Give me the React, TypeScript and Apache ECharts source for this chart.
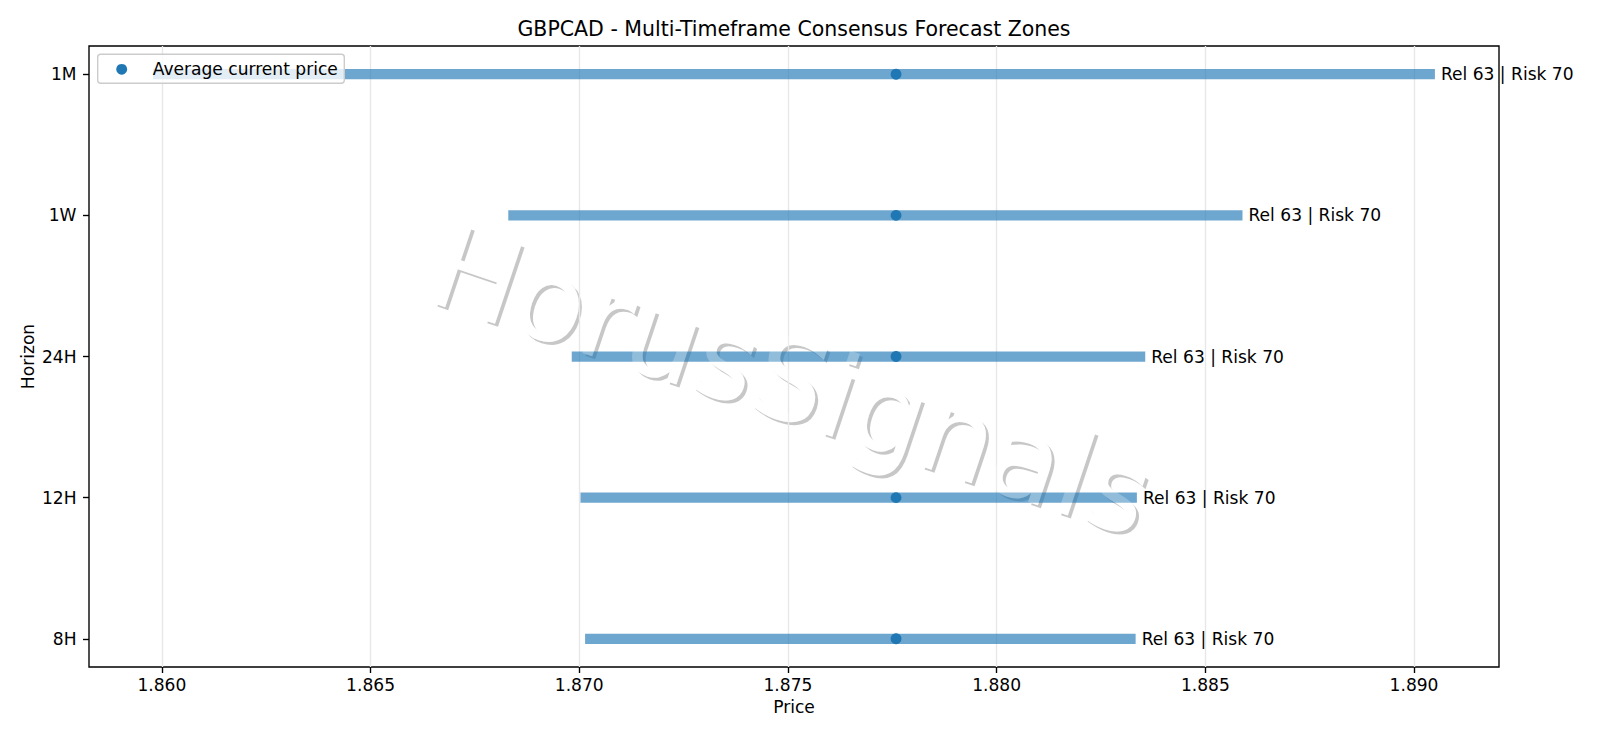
import React, { useEffect, useRef } from "react";
import * as echarts from "echarts";

// ---- data ----
const HORIZONS = ["8H", "12H", "24H", "1W", "1M"];
const LOW = [1.87014, 1.87003, 1.86982, 1.8683, 1.85979];
const HIGH = [1.88333, 1.88336, 1.88356, 1.88589, 1.8905];
const CURRENT = [1.87759, 1.87759, 1.87759, 1.87759, 1.87759];
const REL = [63, 63, 63, 63, 63];
const RISK = [70, 70, 70, 70, 70];
const X_TICKS = [1.86, 1.865, 1.87, 1.875, 1.88, 1.885, 1.89];
const TITLE = "GBPCAD - Multi-Timeframe Consensus Forecast Zones";
const POINT_NAME = "Average current price";
const X_NAME = "Price";
const Y_NAME = "Horizon";
const WATERMARK = "HorusSignals";

const FONT = '"DejaVu Sans"';
const FS = 17.08;
const LW = 1.37;

export default function App() {
  const ref = useRef<HTMLDivElement>(null);
  useEffect(() => {
    document.body.style.margin = "0";
    if (!ref.current) return;
    const chart = echarts.init(ref.current, null, { renderer: "svg" });
    const lo = Math.min(...LOW);
    const hi = Math.max(...HIGH);
    const pad = (hi - lo) * 0.05;
    const yTicks = HORIZONS.map((_, i) => i);
    const wmRot = (-18.5 * Math.PI) / 180;
    const wmX = 792;
    const wmY = 381;
    const wmFont = `115px ${FONT}`;
    const txt = { fontFamily: "DejaVu Sans", fontSize: FS, color: "#000" };

    chart.setOption({
      animation: false,
      backgroundColor: "#fff",
      textStyle: { fontFamily: "DejaVu Sans" },
      title: {
        text: TITLE,
        left: 794,
        top: 18.5,
        textAlign: "center",
        padding: 0,
        textStyle: { fontFamily: "DejaVu Sans", fontSize: 20.5, fontWeight: "normal", color: "#000" },
      },
      grid: {
        left: 89,
        top: 46,
        width: 1410,
        height: 621,
        show: true,
        borderColor: "#000",
        borderWidth: LW,
        backgroundColor: "transparent",
      },
      xAxis: {
        type: "value",
        min: lo - pad,
        max: hi + pad,
        name: X_NAME,
        nameLocation: "middle",
        nameGap: 31,
        nameTextStyle: txt,
        axisLine: { show: false, onZero: false },
        axisTick: {
          show: true,
          length: 6,
          lineStyle: { color: "#000", width: LW },
          customValues: X_TICKS,
        },
        axisLabel: {
          customValues: X_TICKS,
          formatter: (v: number) => v.toFixed(3),
          margin: 9,
          ...txt,
        },
        splitLine: { show: true, lineStyle: { color: "#e7e7e7", width: LW } },
      },
      yAxis: {
        type: "value",
        min: -0.2,
        max: HORIZONS.length - 1 + 0.2,
        name: Y_NAME,
        nameLocation: "middle",
        nameGap: 53,
        nameMoveOverlap: false,
        nameRotate: 90,
        nameTextStyle: txt,
        axisLine: { show: false, onZero: false },
        axisTick: {
          show: true,
          length: 6,
          lineStyle: { color: "#000", width: LW },
          customValues: yTicks,
        },
        axisLabel: {
          customValues: yTicks,
          formatter: (v: number) => HORIZONS[Math.round(v)] ?? "",
          margin: 12.5,
          ...txt,
        },
        splitLine: { show: false },
      },
      series: [
        {
          type: "custom",
          name: "Forecast zone",
          clip: false,
          z: 2,
          encode: { x: [0, 1], y: 2 },
          data: HORIZONS.map((_, i) => [LOW[i], HIGH[i], i, REL[i], RISK[i]]),
          renderItem: (params: any, api: any) => {
            const p0 = api.coord([api.value(0), api.value(2)]);
            const p1 = api.coord([api.value(1), api.value(2)]);
            const h = 10.25;
            return {
              type: "group",
              children: [
                {
                  type: "rect",
                  shape: { x: p0[0], y: p0[1] - h / 2, width: p1[0] - p0[0], height: h },
                  style: { fill: "rgba(31,119,180,0.65)" },
                },
                {
                  type: "text",
                  style: {
                    text: `Rel ${api.value(3)} | Risk ${api.value(4)}`,
                    x: p1[0] + 6,
                    y: p0[1],
                    align: "left",
                    verticalAlign: "middle",
                    fill: "#000",
                    font: `${FS}px ${FONT}`,
                  },
                },
              ],
            };
          },
        },
        {
          type: "scatter",
          name: POINT_NAME,
          z: 3,
          symbol: "circle",
          symbolSize: 10.8,
          itemStyle: { color: "#1f77b4", opacity: 1 },
          data: CURRENT.map((v, i) => [v, i]),
        },
      ],
      graphic: [
        {
          type: "text",
          x: wmX + 3,
          y: wmY + 3,
          rotation: wmRot,
          z: -2,
          silent: true,
          style: { text: WATERMARK, fill: "rgba(0,0,0,0.22)", font: wmFont, align: "center", verticalAlign: "middle" },
        },
        {
          type: "text",
          x: wmX,
          y: wmY,
          rotation: wmRot,
          z: -1,
          silent: true,
          style: { text: WATERMARK, fill: "#ffffff", font: wmFont, align: "center", verticalAlign: "middle" },
        },
        {
          type: "text",
          x: wmX,
          y: wmY,
          rotation: wmRot,
          z: 5,
          silent: true,
          style: { text: WATERMARK, fill: "rgba(255,255,255,0.25)", font: wmFont, align: "center", verticalAlign: "middle" },
        },
        {
          type: "rect",
          z: 10,
          shape: { x: 97.7, y: 54.3, width: 246.6, height: 29, r: 3 },
          style: { fill: "rgba(255,255,255,0.8)", stroke: "#cccccc", lineWidth: LW },
        },
        {
          type: "circle",
          z: 11,
          shape: { cx: 121.7, cy: 69.3, r: 5.4 },
          style: { fill: "#1f77b4" },
        },
        {
          type: "text",
          z: 11,
          x: 152.7,
          y: 69.3,
          style: { text: POINT_NAME, fill: "#000", font: `${FS}px ${FONT}`, align: "left", verticalAlign: "middle" },
        },
      ],
    });
    return () => chart.dispose();
  }, []);
  return <div ref={ref} style={{ width: 1600, height: 738 }} />;
}
